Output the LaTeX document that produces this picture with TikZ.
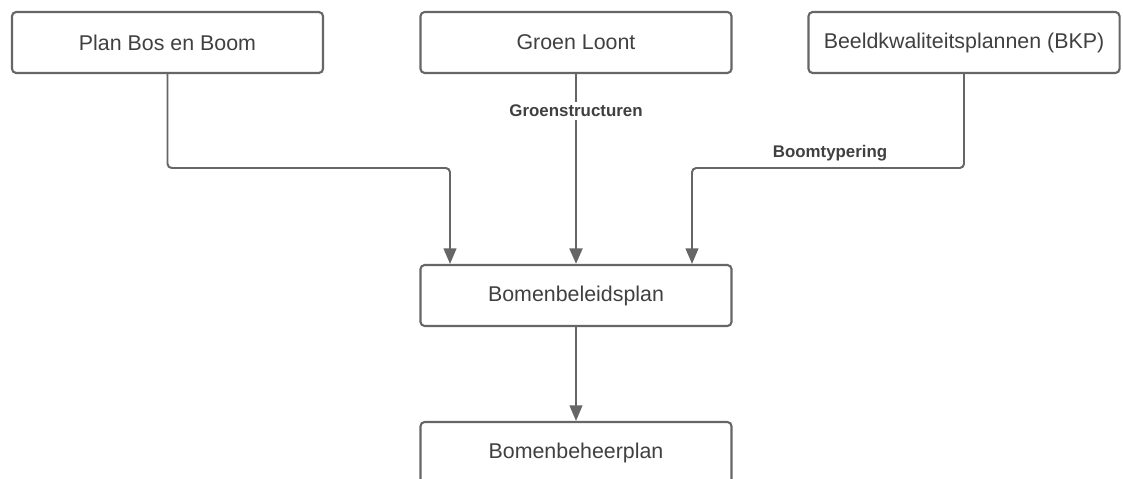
\documentclass[tikz,border=0pt]{standalone}
\usepackage{fontspec}
\setmainfont{Liberation Sans}
\usetikzlibrary{arrows.meta}
\definecolor{lijn}{HTML}{666666}
\definecolor{tekst}{HTML}{404040}
\tikzset{
  vak/.style={draw=lijn,line width=1.5pt,rounded corners=3pt,fill=white,
    minimum width=7.775cm,minimum height=1.525cm,text=tekst,font=\fontsize{15.2}{18}\selectfont},
  pijl/.style={draw=lijn,line width=1.4pt,rounded corners=3pt,
    -{Triangle[length=11pt,width=9pt]}},
  lbl/.style={text=tekst,font=\fontsize{12}{14}\selectfont\bfseries,inner sep=2pt}
}
\begin{document}
\begin{tikzpicture}[x=0.025cm,y=-0.025cm]
  \useasboundingbox (0,0) rectangle (1123,479);
  \clip (0,0) rectangle (1123,479);
  \node[vak] (bos) at (167.5,42.5) {Plan Bos en Boom};
  \node[vak] (groen) at (576,42.5) {Groen Loont};
  \node[vak] (bkp) at (964,42.5) {Beeldkwaliteitsplannen (BKP)};
  \node[vak] (beleid) at (576,295.5) {Bomenbeleidsplan};
  \node[vak] (beheer) at (576,452.5) {Bomenbeheerplan};
  \coordinate (kl) at (450,168);
  \coordinate (kr) at (692,168);
  \draw[pijl] (bos.south) |- (kl) -- (kl |- beleid.north);
  \draw[pijl] (bkp.south) |- (kr) -- (kr |- beleid.north);
  \draw[pijl,line width=2pt] (groen) -- (beleid);
  \node[lbl,fill=white] (groenlbl) at (576,111) {Groenstructuren};
  \node[lbl] (boomlbl) at (830,153) {Boomtypering};
  \draw[pijl] (beleid) -- (beheer);
\end{tikzpicture}
\end{document}
